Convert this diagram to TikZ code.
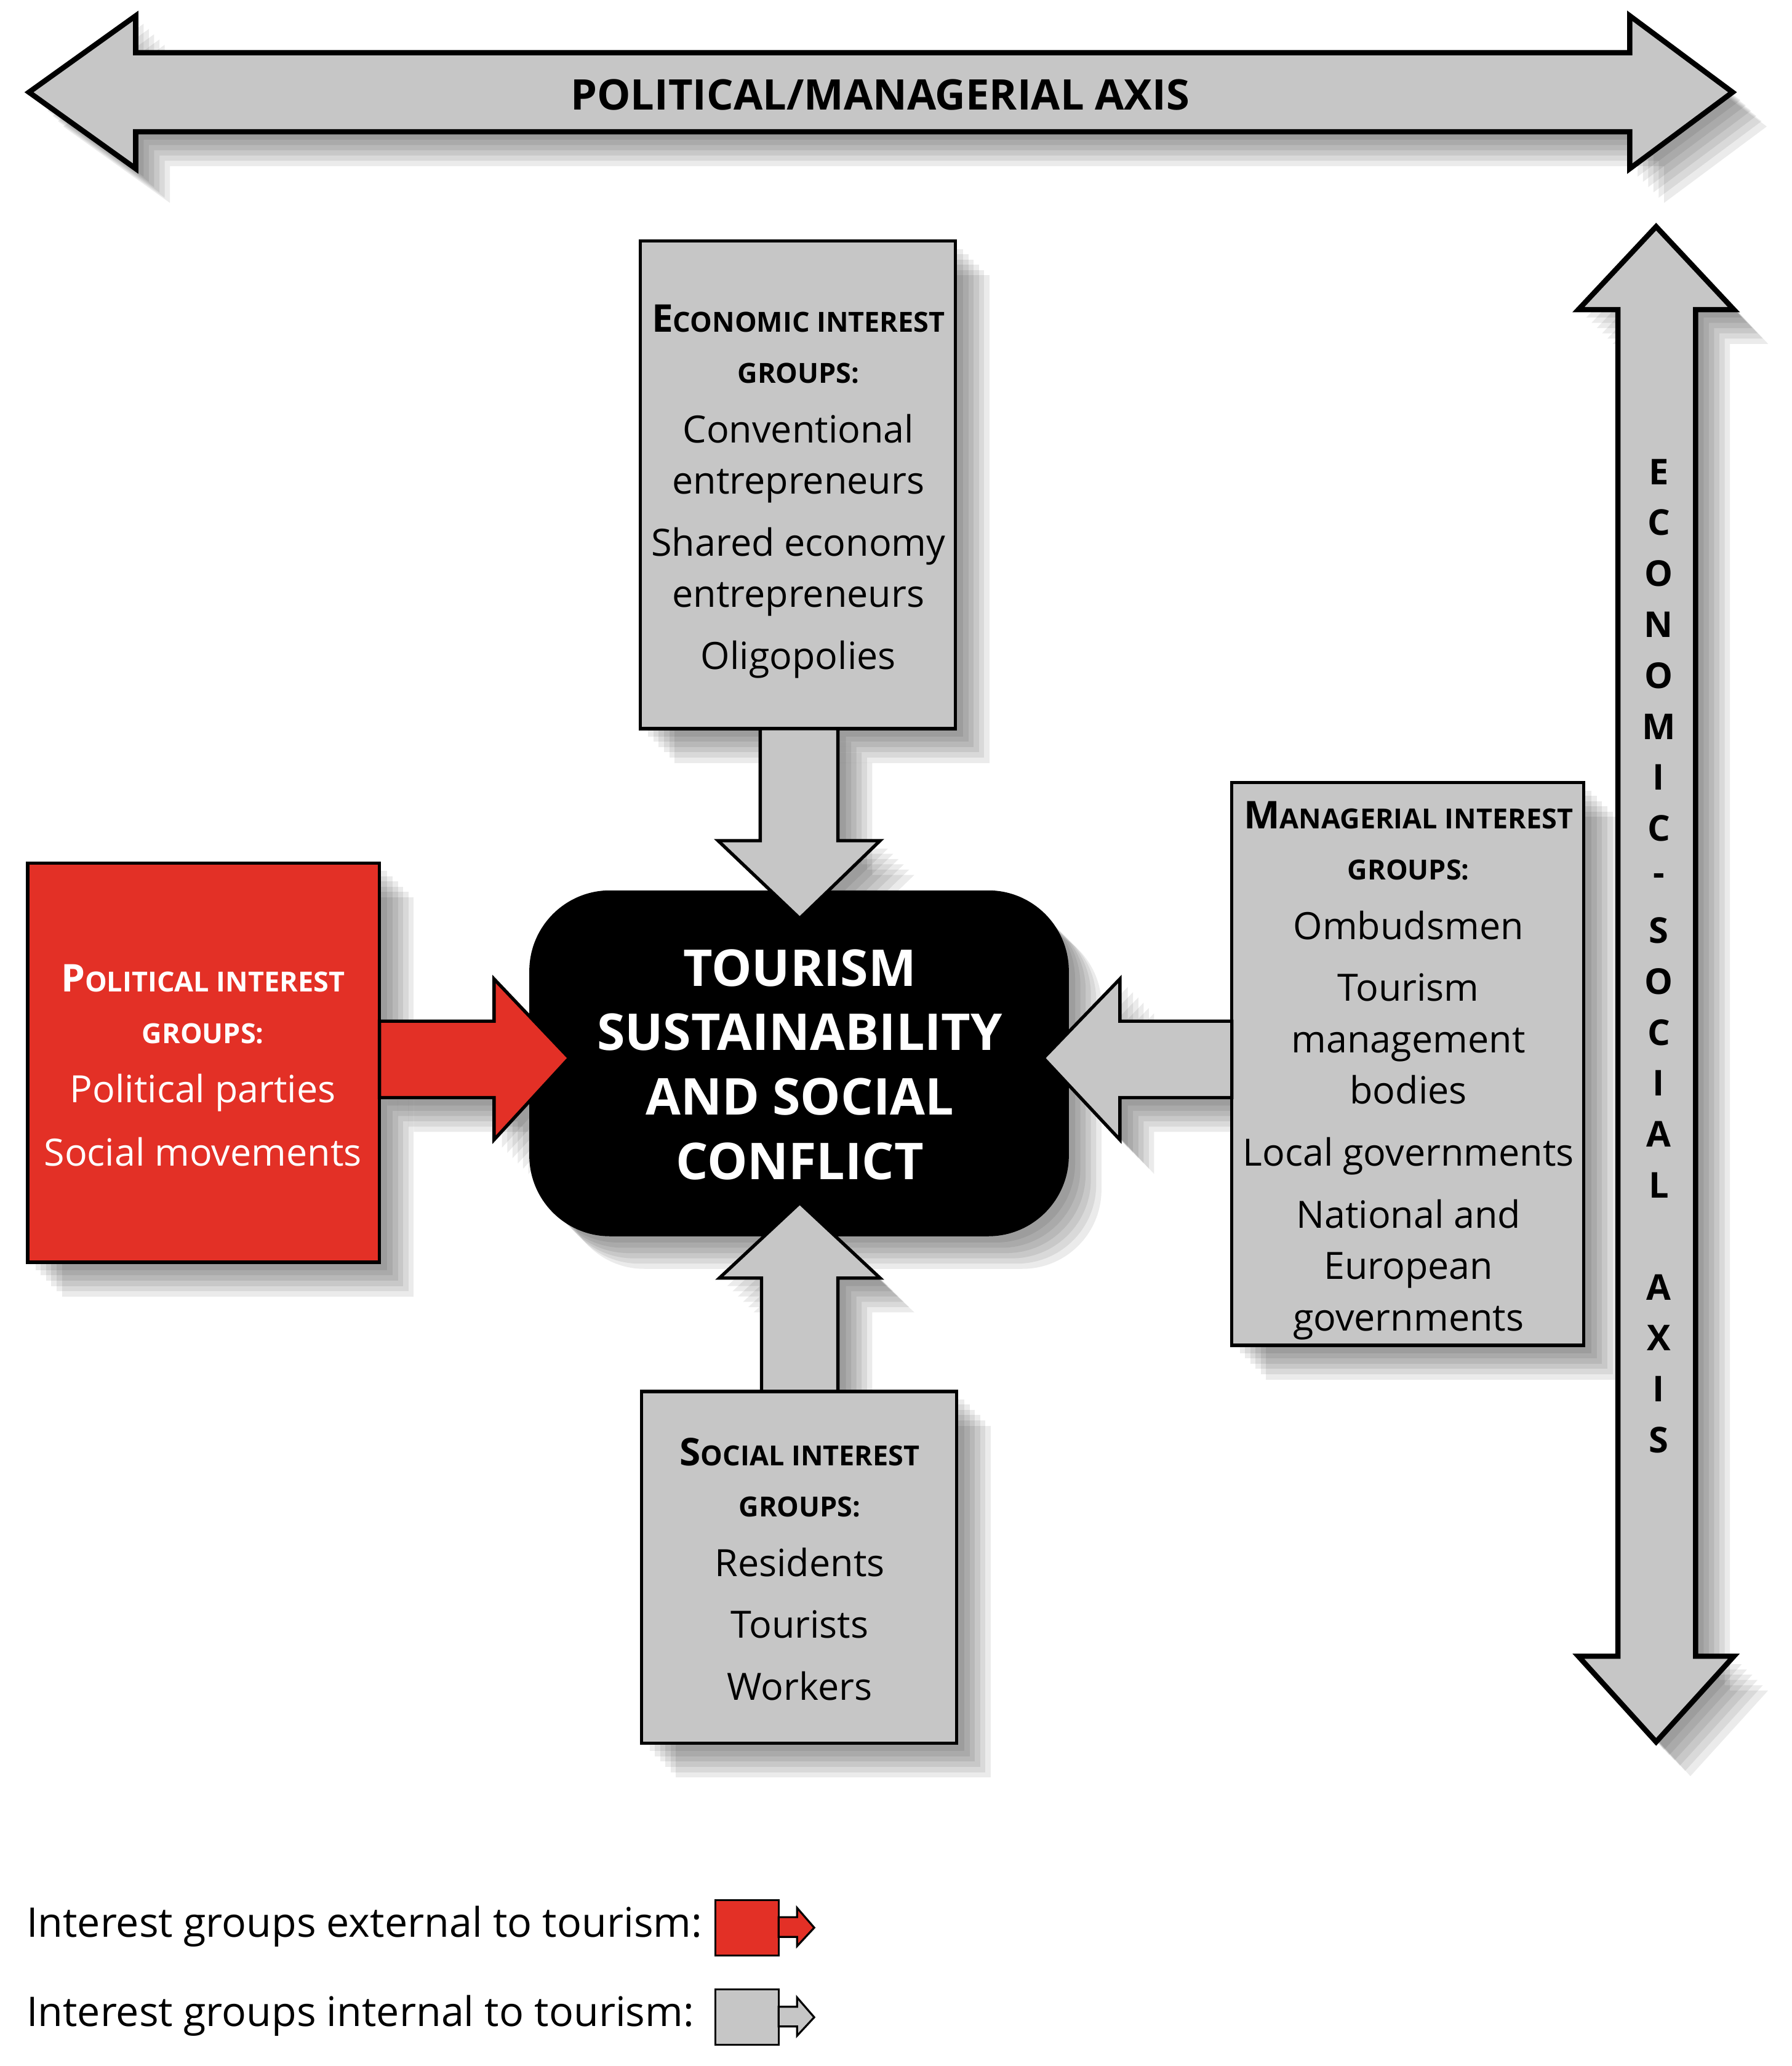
\documentclass[tikz,border=0pt]{standalone}
\usepackage{fontspec}
\setmainfont{Open Sans}
\definecolor{myred}{HTML}{E33026}
\begin{document}
\begin{tikzpicture}[x=1pt,y=-1pt,
  ax/.style={fill=gray!45,draw=black,line width=4pt,line join=miter},
  bx/.style={fill=gray!45,draw=black,line width=2.5pt},
  rx/.style={fill=myred,draw=black,line width=2.5pt},
  txt/.style={align=center,inner sep=0pt,anchor=north,font=\fontsize{28.5}{39}\selectfont},
  shd/.style={fill=black,opacity=0.08,draw=none}]
\useasboundingbox (0,0) rectangle (1360,1568);
\newcommand{\hd}[1]{{\fontsize{29}{39}\selectfont\bfseries #1}}
\newcommand{\sm}[1]{{\fontsize{21}{39}\selectfont\bfseries #1}}
\newcommand{\shadowed}[1]{\foreach \d in {6,10,14,18,22,26}{\fill[shd,shift={(\d,\d)}] #1;}}
% shadows
\shadowed{(22,70)--(103,12)--(103,40)--(1237,40)--(1237,12)--(1315,70)--(1237,128)--(1237,100)--(103,100)--(103,128)--cycle}
\shadowed{(1257,172)--(1316,235)--(1287,235)--(1287,1257)--(1316,1257)--(1257,1322)--(1198,1257)--(1228,1257)--(1228,235)--(1198,235)--cycle}
\shadowed{(486,183) rectangle (725,553)}
\shadowed{(577,553)--(636,553)--(636,638)--(668,638)--(607,697)--(545,638)--(577,638)--cycle}
\shadowed{(21,655) rectangle (288,958)}
\shadowed{(288,775)--(375,775)--(375,743)--(432,803)--(375,865)--(375,833)--(288,833)--cycle}
\shadowed{(935,594) rectangle (1202,1021)}
\shadowed{(935,775)--(850,775)--(850,743)--(792,803)--(850,865)--(850,833)--(935,833)--cycle}
\shadowed{(487,1056) rectangle (726,1323)}
\shadowed{(578,1056)--(636,1056)--(636,970)--(668,970)--(607,913)--(546,970)--(578,970)--cycle}
\shadowed{[rounded corners=60pt] (403,677) rectangle (810,937)}
% axes
\draw[ax] (22,70)--(103,12)--(103,40)--(1237,40)--(1237,12)--(1315,70)--(1237,128)--(1237,100)--(103,100)--(103,128)--cycle;
\node[font=\fontsize{32}{36}\selectfont\bfseries] (pax) at (668,72) {POLITICAL/MANAGERIAL AXIS};
\draw[ax] (1257,172)--(1316,235)--(1287,235)--(1287,1257)--(1316,1257)--(1257,1322)--(1198,1257)--(1228,1257)--(1228,235)--(1198,235)--cycle;
\foreach \c [count=\i from 0] in {E,C,O,N,O,M,I,C,-,S,O,C,I,A,L,{},A,X,I,S}
  \node[font=\fontsize{27}{30}\selectfont\bfseries] (v\i) at (1259,358+38.68*\i) {\c};
% boxes
\draw[bx] (486,183) rectangle (725,553);
\node[txt] (eco) at (606,231) {\hd{E}\sm{CONOMIC INTEREST}\\\sm{GROUPS:}\\[6pt]Conventional\\entrepreneurs\\[8pt]Shared economy\\entrepreneurs\\[8pt]Oligopolies};
\draw[rx] (21,655) rectangle (288,958);
\node[txt,text=white] (pol) at (154,732) {\hd{P}\sm{OLITICAL INTEREST}\\\sm{GROUPS:}\\[6pt]Political parties\\[9pt]Social movements};
\draw[bx] (935,594) rectangle (1202,1021);
\node[txt] (man) at (1069,608) {\hd{M}\sm{ANAGERIAL INTEREST}\\\sm{GROUPS:}\\[6pt]Ombudsmen\\[8pt]Tourism\\management\\bodies\\[8pt]Local governments\\[8pt]National and\\European\\governments};
\draw[bx] (487,1056) rectangle (726,1323);
\node[txt] (soc) at (607,1091) {\hd{S}\sm{OCIAL INTEREST}\\\sm{GROUPS:}\\[6pt]Residents\\[8pt]Tourists\\[8pt]Workers};
\fill[black,draw=black,line width=2.5pt,rounded corners=60pt] (403,677) rectangle (810,937);
\node[align=center,text=white,font=\fontsize{38.5}{49}\selectfont\bfseries] (ctr) at (607,808) {TOURISM\\SUSTAINABILITY\\AND SOCIAL\\CONFLICT};
% arrows (on top)
\draw[bx] (577,553)--(636,553)--(636,638)--(668,638)--(607,697)--(545,638)--(577,638)--cycle;
\draw[rx] (288,775)--(375,775)--(375,743)--(432,803)--(375,865)--(375,833)--(288,833)--cycle;
\draw[bx] (935,775)--(850,775)--(850,743)--(792,803)--(850,865)--(850,833)--(935,833)--cycle;
\draw[bx] (578,1056)--(636,1056)--(636,970)--(668,970)--(607,913)--(546,970)--(578,970)--cycle;
% legend
\node[anchor=west,font=\fontsize{31}{34}\selectfont,inner sep=0pt] (l1) at (20,1462) {Interest groups external to tourism:};
\node[anchor=west,font=\fontsize{31}{34}\selectfont,inner sep=0pt] (l2) at (20,1530) {Interest groups internal to tourism:};
\draw[rx,line width=1.5pt] (543,1442) rectangle (591,1484);
\draw[rx,line width=1.5pt] (591,1455)--(605,1455)--(605,1448)--(618,1463)--(605,1477)--(605,1470)--(591,1470)--cycle;
\draw[bx,line width=1.5pt] (543,1510) rectangle (591,1552);
\draw[bx,line width=1.5pt] (591,1523)--(605,1523)--(605,1516)--(618,1531)--(605,1545)--(605,1538)--(591,1538)--cycle;
\end{tikzpicture}
\end{document}
